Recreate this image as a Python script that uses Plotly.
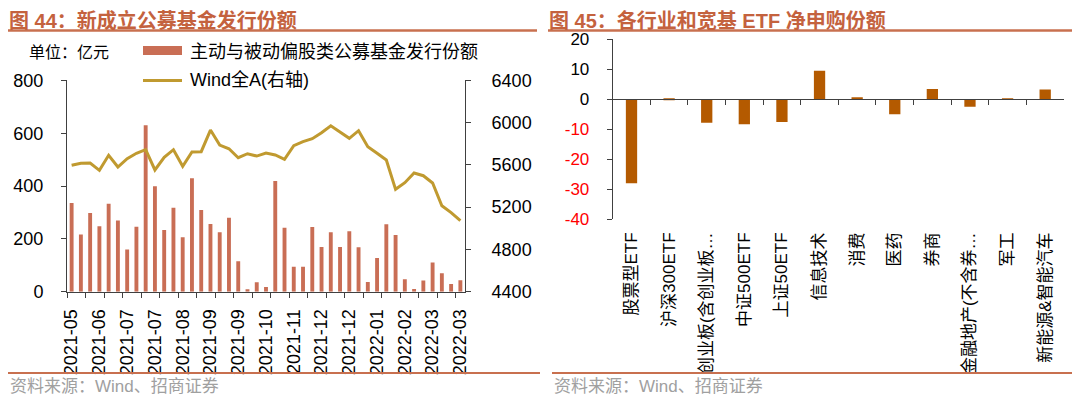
import plotly.graph_objects as go
import pandas as pd

# ---------------- data ----------------
weeks = list(pd.date_range("2021-05-07", periods=43, freq="7D").strftime("%Y-%m-%d"))
week_tick_labels = ["2021-05", "2021-06", "2021-07", "2021-07", "2021-08", "2021-09",
                    "2021-09", "2021-10", "2021-11", "2021-12", "2021-12", "2022-01",
                    "2022-02", "2022-03", "2022-03"]
fund_issuance = [336, 217, 298, 248, 333, 270, 160, 246, 630, 399, 234, 318, 206, 430,
                 309, 256, 225, 280, 115, 9, 36, 18, 419, 242, 94, 94, 245, 169, 225,
                 169, 229, 168, 37, 128, 255, 215, 47, 10, 42, 111, 70, 29, 43]
wind_all_a = [5596, 5615, 5618, 5549, 5691, 5580, 5659, 5710, 5744, 5552, 5672, 5744,
              5587, 5722, 5725, 5930, 5788, 5753, 5668, 5706, 5684, 5713, 5694, 5653,
              5782, 5820, 5848, 5905, 5971, 5914, 5852, 5924, 5772, 5710, 5647, 5369,
              5432, 5523, 5498, 5429, 5214, 5148, 5072]

etf_names = ["股票型ETF", "沪深300ETF", "创业板(含创业板…", "中证500ETF", "上证50ETF",
             "信息技术", "消费", "医药", "券商", "金融地产(不含券…", "军工", "新能源&智能汽车"]
etf_flows = [-28.1, -0.1, -7.9, -8.4, -7.6, 9.5, 0.4, -5.0, 3.4, -2.5, 0.3, 3.2]
etf_ticks = [20, 10, 0, -10, -20, -30, -40]

# ---------------- styles ----------------
# The page body has an 8px default margin, so the figure is drawn 8px smaller
# and all page-pixel positions are shifted by that offset.
OFF = 8
W, H = 1080 - OFF, 397 - OFF
BAR_L = "#C96E55"
LINE_C = "#C09A30"
BAR_R = "#B45A00"
TITLE_C = "#C4623E"
RULE_C = "#C8704F"
AX_C = "#404040"
FONT = "Liberation Sans, Noto Sans CJK SC, sans-serif"
CJK = "Noto Sans CJK SC, sans-serif"


def fx(p):
    return max(p - OFF, 0) / W


def fy(p):
    return 1 - (p - OFF) / H


L_dom_x = [fx(67), fx(465)]
L_dom_y = [fy(291.7), fy(80.4)]
R_dom_x = [fx(612.7), fx(1064)]
R_dom_y = [fy(219), fy(39.3)]
zero_pos = R_dom_y[0] + (R_dom_y[1] - R_dom_y[0]) * (0 - (-40)) / 60

fig = go.Figure()

fig.add_trace(go.Bar(x=weeks, y=fund_issuance, name="主动与被动偏股类公募基金发行份额",
                     marker=dict(color=BAR_L, line=dict(width=0)), width=0.42,
                     xaxis="x", yaxis="y"))
fig.add_trace(go.Scatter(x=weeks, y=wind_all_a, name="Wind全A(右轴)", mode="lines",
                         line=dict(color=LINE_C, width=3), xaxis="x3", yaxis="y2"))
fig.add_trace(go.Bar(x=etf_names, y=etf_flows, name="净申购份额",
                     marker=dict(color=BAR_R, line=dict(width=0)), width=0.3,
                     xaxis="x2", yaxis="y3"))
fig.add_trace(go.Scatter(x=etf_names, y=etf_flows, mode="markers", marker=dict(opacity=0),
                         hoverinfo="skip", xaxis="x4", yaxis="y3"))

common_cat_left = dict(type="category", categoryorder="array", categoryarray=weeks,
                       range=[-0.5, len(weeks) - 0.5], showgrid=False, zeroline=False,
                       automargin=False)
common_cat_right = dict(type="category", categoryorder="array", categoryarray=etf_names,
                        range=[-0.5, len(etf_names) - 0.5], showgrid=False, zeroline=False,
                        automargin=False)

red_text = ["<span style='color:#FF0000'>%d</span>" % v if v < 0 else str(v) for v in etf_ticks]

fig.update_layout(
    width=W, height=H,
    margin=dict(l=0, r=0, t=0, b=0, autoexpand=False),
    paper_bgcolor="white", plot_bgcolor="white",
    showlegend=False,
    font=dict(family=FONT, color="black"),
    xaxis=dict(domain=L_dom_x, anchor="y", showticklabels=False, ticks="outside",
               tickson="boundaries", ticklen=5, tickcolor=AX_C, showline=True,
               linecolor=AX_C, linewidth=1, **common_cat_left),
    xaxis3=dict(overlaying="x", anchor="y", showticklabels=True, tickmode="array",
                tickvals=weeks[::3], ticktext=week_tick_labels, ticks="", tickangle=-90,
                tickfont=dict(size=18, family=FONT), showline=False,
                ticklabelstandoff=13, **common_cat_left),
    yaxis=dict(domain=L_dom_y, anchor="x", range=[0, 800], dtick=200, ticks="outside",
               ticklen=5, tickcolor=AX_C, showline=True, linecolor=AX_C, linewidth=1,
               showgrid=False, zeroline=False, tickfont=dict(size=18),
               ticklabelstandoff=14, automargin=False),
    yaxis2=dict(overlaying="y", side="right", anchor="x", range=[4400, 6400], dtick=400,
                ticks="outside", ticklen=5, tickcolor=AX_C, showline=True, linecolor=AX_C,
                linewidth=1, showgrid=False, zeroline=False, tickfont=dict(size=18),
                ticklabelstandoff=17, automargin=False),
    xaxis2=dict(domain=R_dom_x, anchor="y3", ticks="", tickangle=-90,
                tickfont=dict(size=17, family=FONT), showline=False,
                ticklabelstandoff=9, **common_cat_right),
    xaxis4=dict(overlaying="x2", anchor="free", position=zero_pos, showticklabels=False,
                ticks="outside", tickson="boundaries", ticklen=5, tickcolor=AX_C,
                showline=True, linecolor=AX_C, linewidth=1, **common_cat_right),
    yaxis3=dict(domain=R_dom_y, anchor="x2", range=[-40, 20], tickmode="array",
                tickvals=etf_ticks, ticktext=red_text, ticks="outside", ticklen=5,
                tickcolor=AX_C, showline=True, linecolor=AX_C, linewidth=1,
                showgrid=False, zeroline=False, tickfont=dict(size=17),
                ticklabelstandoff=14, automargin=False),
)

annotations = [
    dict(x=fx(4), y=1.0, yanchor="top", text="<b>图 44：新成立公募基金发行份额</b>",
         font=dict(size=20, color=TITLE_C, family=FONT), borderpad=0),
    dict(x=fx(548), y=1.0, yanchor="top", text="<b>图 45：各行业和宽基 ETF 净申购份额</b>",
         font=dict(size=20, color=TITLE_C, family=FONT), borderpad=0),
    dict(x=fx(27), y=fy(51), text="单位：亿元", font=dict(size=16, family=CJK)),
    dict(x=fx(188), y=fy(50), text="主动与被动偏股类公募基金发行份额",
         font=dict(size=18, family=CJK)),
    dict(x=fx(188), y=fy(80), text="Wind全A(右轴)", font=dict(size=18, family=FONT)),
    dict(x=fx(5), y=fy(386), text="资料来源：Wind、招商证券",
         font=dict(size=17, color="#A0A0A0", family=FONT)),
    dict(x=fx(552), y=fy(386), text="资料来源：Wind、招商证券",
         font=dict(size=17, color="#A0A0A0", family=FONT)),
]
for a in annotations:
    a.setdefault("yanchor", "middle")
    a.update(xref="paper", yref="paper", xanchor="left", showarrow=False)
fig.update_layout(annotations=annotations)

shapes = [
    dict(type="line", x0=fx(3), x1=fx(537), y0=fy(30.5), y1=fy(30.5),
         line=dict(color=RULE_C, width=2.5)),
    dict(type="line", x0=fx(548), x1=fx(1080), y0=fy(30.5), y1=fy(30.5),
         line=dict(color=RULE_C, width=2.5)),
    dict(type="line", x0=fx(3), x1=fx(540), y0=fy(373), y1=fy(373),
         line=dict(color=RULE_C, width=2)),
    dict(type="line", x0=fx(552), x1=fx(1080), y0=fy(373), y1=fy(373),
         line=dict(color=RULE_C, width=2)),
    dict(type="rect", x0=fx(143), x1=fx(182), y0=fy(55), y1=fy(46),
         fillcolor=BAR_L, line=dict(width=0)),
    dict(type="line", x0=fx(143), x1=fx(182), y0=fy(80.5), y1=fy(80.5),
         line=dict(color=LINE_C, width=3)),
]
for s in shapes:
    s.update(xref="paper", yref="paper")
fig.update_layout(shapes=shapes)

fig.write_html("out.html")
